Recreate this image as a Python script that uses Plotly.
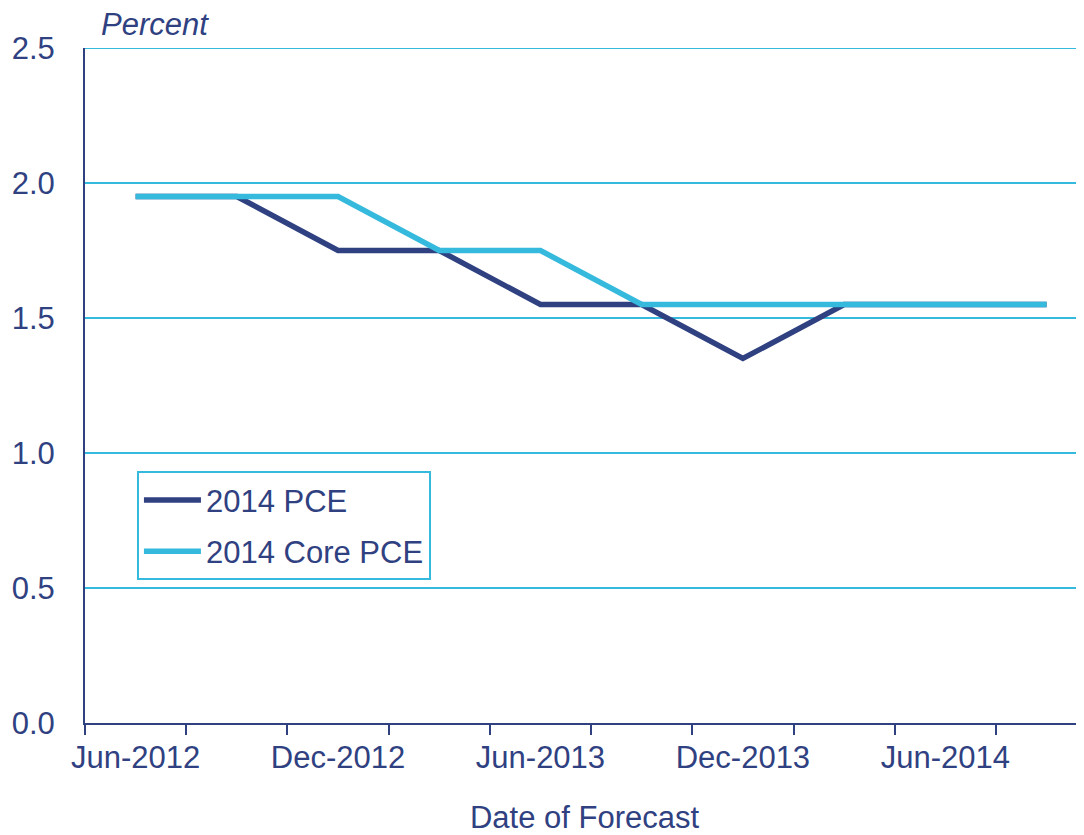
import plotly.graph_objects as go

# Forecast dates (quarterly) and the 2014 inflation projections
forecast_dates = ["Jun-2012", "Sep-2012", "Dec-2012", "Mar-2013", "Jun-2013",
                  "Sep-2013", "Dec-2013", "Mar-2014", "Jun-2014", "Sep-2014"]
pce_2014 = [1.95, 1.95, 1.75, 1.75, 1.55, 1.55, 1.35, 1.55, 1.55, 1.55]
core_pce_2014 = [1.95, 1.95, 1.95, 1.75, 1.75, 1.55, 1.55, 1.55, 1.55, 1.55]
tick_labels = ["Jun-2012", "Dec-2012", "Jun-2013", "Dec-2013", "Jun-2014"]
y_ticks = [0.0, 0.5, 1.0, 1.5, 2.0, 2.5]

NAVY = "#2F4181"
CYAN = "#35B9DC"
FONT = "Liberation Sans, Arial, sans-serif"

xpos = list(range(len(forecast_dates)))
tickpos = [forecast_dates.index(t) for t in tick_labels]

fig = go.Figure()
fig.add_trace(go.Scatter(x=xpos, y=pce_2014, mode="lines", name="2014 PCE",
                         legendgroup="a",
                         line=dict(color=NAVY, width=5.5)))
fig.add_trace(go.Scatter(x=xpos, y=core_pce_2014, mode="lines", name="2014 Core PCE",
                         legendgroup="b",
                         line=dict(color=CYAN, width=5.5)))

# top gridline sits on the plot edge, so draw it explicitly
fig.add_hline(y=y_ticks[-1], line_color=CYAN, line_width=2, layer="below")

fig.add_annotation(text="<i>Percent</i>", xref="paper", yref="paper",
                   x=0.014, y=1.0, xanchor="left", yanchor="bottom", yshift=4,
                   showarrow=False, font=dict(size=31, color=NAVY, family=FONT))

# page body has an 8px margin, so margins are trimmed by 8px to line up
fig.update_layout(
    width=1084, height=835,
    margin=dict(l=77, r=8, t=40, b=120, autoexpand=False),
    paper_bgcolor="white", plot_bgcolor="white",
    font=dict(family=FONT, size=31, color=NAVY),
    showlegend=True,
    legend=dict(x=0.052, y=0.373, xanchor="left", yanchor="top",
                bgcolor="white", bordercolor=CYAN, borderwidth=2,
                tracegroupgap=8, itemwidth=57,
                font=dict(size=31, color=NAVY, family=FONT)),
    xaxis=dict(range=[-0.5, 9.37], tickvals=tickpos, ticktext=tick_labels,
               ticks="", showgrid=False, zeroline=False, automargin=False,
               showline=True, linecolor=NAVY, linewidth=2,
               ticklabelstandoff=6,
               minor=dict(tickvals=[i - 0.5 for i in xpos] + [len(xpos) - 0.5],
                          ticks="outside", ticklen=10, tickwidth=2,
                          tickcolor=NAVY, showgrid=False),
               title=dict(text="Date of Forecast", standoff=32,
                          font=dict(size=31, color=NAVY))),
    yaxis=dict(range=[0, 2.5], tickvals=y_ticks, tickformat=".1f",
               showgrid=True, gridcolor=CYAN, gridwidth=2, automargin=False,
               zeroline=False, showline=True, linecolor=NAVY, linewidth=2,
               ticks="", ticklabelstandoff=22),
)

fig.write_html("out.html")
